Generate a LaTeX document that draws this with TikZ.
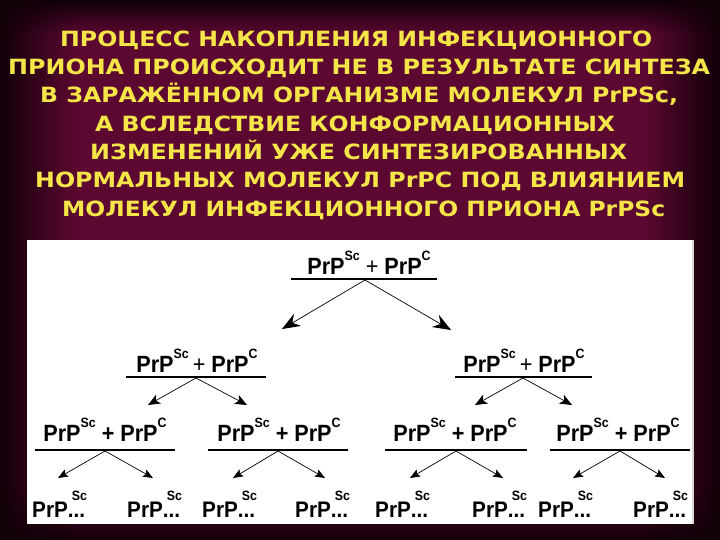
\documentclass[tikz,border=0pt]{standalone}
\usepackage{fontspec}
\usepackage{graphicx}
\usetikzlibrary{arrows.meta,fadings}
\setmainfont{Liberation Sans}
\newfontfamily\titlefont{DejaVu Sans}
\newfontfamily\treefont[FakeStretch=0.92]{Liberation Sans}
\definecolor{bgin}{RGB}{92,8,48}
\definecolor{bgout}{RGB}{16,0,8}
\definecolor{ttl}{RGB}{244,230,72}
\tikzfading[name=fadeR, left color=transparent!0, right color=transparent!100]
\tikzfading[name=fadeL, right color=transparent!0, left color=transparent!100]
\tikzfading[name=fadeD, top color=transparent!0, bottom color=transparent!100]
\tikzfading[name=fadeU, bottom color=transparent!0, top color=transparent!100]
\newlength\tlw
\newcommand\fitw[2]{\settowidth\tlw{#2}\pgfmathsetmacro\tsx{#1/\tlw}\scalebox{\tsx}[1]{#2}}
\newcommand\sups[1]{\raisebox{14pt}{\fontsize{13.5}{13.5}\selectfont\bfseries #1}}
\newcommand\prsc{PrP\sups{Sc}}
\newcommand\prc{PrP\sups{C}}
\newcommand\prend{PrP\rlap{\hspace{4pt}\raisebox{17pt}{\fontsize{13.5}{13.5}\selectfont\bfseries Sc}}...}
\tikzset{
  ttlline/.style={text=ttl, inner sep=0pt, font=\titlefont\bfseries\fontsize{21}{24}\selectfont},
  pair/.style={inner sep=0pt, anchor=base, font=\treefont\bfseries\fontsize{23.5}{24}\selectfont},
  leaf/.style={inner sep=0pt, anchor=base west, font=\treefont\bfseries\fontsize{22.5}{24}\selectfont},
  uline/.style={line width=1.7pt, black},
  bigarrow/.style={-{Stealth[length=18pt,width=14pt,inset=6pt]}, line width=0.7pt},
  midarrow/.style={-{Stealth[length=12pt,width=10pt,inset=3pt]}, line width=0.7pt},
  smallarrow/.style={-{Stealth[length=10pt,width=8pt,inset=2pt]}, line width=0.7pt}
}
\begin{document}
\begin{tikzpicture}[x=1pt,y=-1pt]
\useasboundingbox (0,0) rectangle (720,540);
% background with dark vignette at the edges
\fill[bgin] (0,0) rectangle (720,540);
\fill[bgout, path fading=fadeR] (0,0) rectangle (75,540);
\fill[bgout, path fading=fadeL] (645,0) rectangle (720,540);
\fill[bgout, path fading=fadeD] (0,0) rectangle (720,34);
\fill[bgout, path fading=fadeU] (0,490) rectangle (720,540);
% title
\node[ttlline, anchor=base west] (t1) at (60,47) {\fitw{592pt}{ПРОЦЕСС НАКОПЛЕНИЯ ИНФЕКЦИОННОГО}};
\node[ttlline, anchor=base west] (t2) at (8,75) {\fitw{702pt}{ПРИОНА ПРОИСХОДИТ НЕ В РЕЗУЛЬТАТЕ СИНТЕЗА}};
\node[ttlline, anchor=base west] (t3) at (40,103) {\fitw{638pt}{В ЗАРАЖЁННОМ ОРГАНИЗМЕ МОЛЕКУЛ PrPSc,}};
\node[ttlline, anchor=base west] (t4) at (95,132) {\fitw{520pt}{А ВСЛЕДСТВИЕ КОНФОРМАЦИОННЫХ}};
\node[ttlline, anchor=base west] (t5) at (90,160) {\fitw{537pt}{ИЗМЕНЕНИЙ УЖЕ СИНТЕЗИРОВАННЫХ}};
\node[ttlline, anchor=base west] (t6) at (35,188) {\fitw{650pt}{НОРМАЛЬНЫХ МОЛЕКУЛ PrPC ПОД ВЛИЯНИЕМ}};
\node[ttlline, anchor=base west] (t7) at (62,217) {\fitw{603pt}{МОЛЕКУЛ ИНФЕКЦИОННОГО ПРИОНА PrPSc}};
% panel
\fill[white] (27,240) rectangle (694,524);
\draw[black!15, line width=1.5pt] (693,240) -- (693,524);
% level 0
\node[pair] (n0) at (369,274) {\prsc\ {\mdseries +}\ \prc};
\draw[uline] (291,279) -- (437,279);
\coordinate (m0) at (365,280);
\coordinate (a0l) at (282,329);
\coordinate (a0r) at (451,330);
\draw[bigarrow] (m0) -- (a0l);
\draw[bigarrow] (m0) -- (a0r);
% level 1
\node[pair] (n1) at (197,372) {\prsc\,{\mdseries +}\ \prc};
\node[pair] (n2) at (524,372) {\prsc\,{\mdseries +}\ \prc};
\draw[uline] (126,377) -- (266,377);
\draw[uline] (455,377) -- (592,377);
\coordinate (m1) at (196,378);
\coordinate (m2) at (523,378);
\coordinate (a1l) at (148,405);
\coordinate (a1r) at (247,405);
\coordinate (a2l) at (475,405);
\coordinate (a2r) at (572,405);
\draw[midarrow] (m1) -- (a1l);
\draw[midarrow] (m1) -- (a1r);
\draw[midarrow] (m2) -- (a2l);
\draw[midarrow] (m2) -- (a2r);
% level 2
\node[pair] (g1) at (105,441) {\prsc\ +\ \prc};
\node[pair] (g2) at (279,441) {\prsc\ +\ \prc};
\node[pair] (g3) at (455,441) {\prsc\ +\ \prc};
\node[pair] (g4) at (618,441) {\prsc\ +\ \prc};
\draw[uline] (35,450) -- (175,450);
\draw[uline] (208,450) -- (348,450);
\draw[uline] (385,450) -- (527,450);
\draw[uline] (550,450) -- (690,450);
\coordinate (mg1) at (105,451);
\coordinate (mg2) at (278,451);
\coordinate (mg3) at (456,451);
\coordinate (mg4) at (620,451);
\coordinate (b1) at (58,478);
\coordinate (b2) at (153,478);
\coordinate (b3) at (233,478);
\coordinate (b4) at (325,478);
\coordinate (b5) at (410,478);
\coordinate (b6) at (503,478);
\coordinate (b7) at (573,478);
\coordinate (b8) at (665,478);
\draw[smallarrow] (mg1) -- (b1);
\draw[smallarrow] (mg1) -- (b2);
\draw[smallarrow] (mg2) -- (b3);
\draw[smallarrow] (mg2) -- (b4);
\draw[smallarrow] (mg3) -- (b5);
\draw[smallarrow] (mg3) -- (b6);
\draw[smallarrow] (mg4) -- (b7);
\draw[smallarrow] (mg4) -- (b8);
% level 3
\node[leaf] (l1) at (32,517) {\prend};
\node[leaf] (l2) at (127,517) {\prend};
\node[leaf] (l3) at (202,517) {\prend};
\node[leaf] (l4) at (295,517) {\prend};
\node[leaf] (l5) at (375,517) {\prend};
\node[leaf] (l6) at (472,517) {\prend};
\node[leaf] (l7) at (538,517) {\prend};
\node[leaf] (l8) at (633,517) {\prend};
\end{tikzpicture}
\end{document}
